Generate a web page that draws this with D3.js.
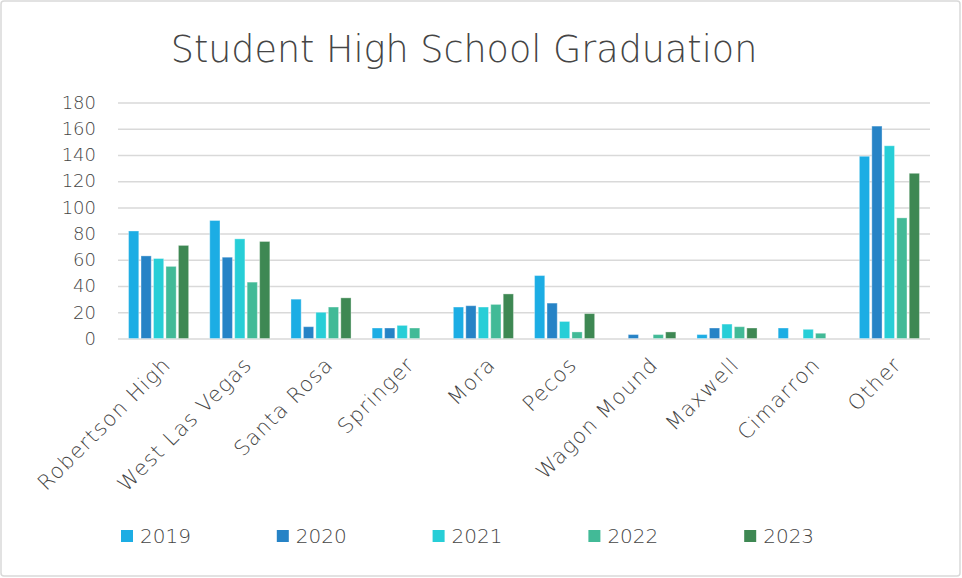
<!DOCTYPE html>
<html>
<head>
<meta charset="utf-8">
<script src="https://cdn.jsdelivr.net/npm/d3@7"></script>
<style>
  body { margin: 0; background: #fff; }
  svg text { font-family: "DejaVu Sans", sans-serif; font-weight: 200; fill: #454545; }
</style>
</head>
<body>
<svg id="chart" width="962" height="578"></svg>
<script>
const schools = ["Robertson High", "West Las Vegas", "Santa Rosa", "Springer", "Mora", "Pecos", "Wagon Mound", "Maxwell", "Cimarron", "Other"];
const years = ["2019", "2020", "2021", "2022", "2023"];
const v2019 = [82, 90, 30, 8, 24, 48, 0, 3, 8, 139];
const v2020 = [63, 62, 9, 8, 25, 27, 3, 8, 0, 162];
const v2021 = [61, 76, 20, 10, 24, 13, 0, 11, 7, 147];
const v2022 = [55, 43, 24, 8, 26, 5, 3, 9, 4, 92];
const v2023 = [71, 74, 31, 0, 34, 19, 5, 8, null, 126];
const yTicks = [0, 20, 40, 60, 80, 100, 120, 140, 160, 180];
const colors = ["#1CADE4", "#2683C6", "#27CED7", "#42BA97", "#3E8853"];

const series = [v2019, v2020, v2021, v2022, v2023];

const svg = d3.select('#chart');
const margin = { top: 102.5, right: 32, bottom: 239.5, left: 118 };
const width = 962 - margin.left - margin.right;
const height = 578 - margin.top - margin.bottom;

// chart frame
svg.append('rect')
    .attr('x', 1).attr('y', 1).attr('width', 959).attr('height', 575)
    .attr('rx', 3)
    .attr('fill', '#fff').attr('stroke', '#d9d9d9').attr('stroke-width', 1.5);

svg.append('text')
    .attr('x', 464).attr('y', 62)
    .attr('text-anchor', 'middle')
    .style('font-size', '36.5px')
    .text('Student High School Graduation');

const g = svg.append('g').attr('transform', 'translate(' + margin.left + ',' + margin.top + ')');

let x0 = d3.scaleBand().domain(schools).range([0, width]).paddingInner(0.26).paddingOuter(0.13);
let x1 = d3.scaleBand().domain(years).range([0, x0.bandwidth()]).paddingInner(0.18);
let yScale = d3.scaleLinear().domain([0, 180]).range([height, 0]);

// gridlines + y labels
let yAxis = d3.axisLeft(yScale).tickValues(yTicks).tickSize(-width).tickPadding(22);
g.append('g').attr('id', 'yAxisG')
    .call(yAxis)
    .call(a => {
        a.select('.domain').remove();
        a.selectAll('.tick line').attr('stroke', '#d9d9d9').attr('stroke-width', 1.5);
        a.selectAll('.tick text').style('font-size', '18px').attr('fill', '#454545');
    });

// bars
const groups = g.append('g').selectAll('.grp').data(schools).enter().append('g')
    .attr('class', 'grp')
    .attr('transform', d => 'translate(' + x0(d) + ',0)');

years.forEach((yr, si) => {
    groups.filter((d, i) => series[si][i] !== null)
        .append('rect')
        .attr('x', x1(yr))
        .attr('width', x1.bandwidth())
        .attr('y', (d) => yScale(series[si][schools.indexOf(d)]))
        .attr('height', (d) => height - yScale(series[si][schools.indexOf(d)]))
        .attr('fill', colors[si])
        .attr('stroke', '#ffffff')
        .attr('stroke-opacity', 0.35)
        .attr('stroke-width', 1);
});

// x labels
const xl = g.append('g').attr('transform', 'translate(0,' + height + ')');
xl.selectAll('text').data(schools).enter().append('text')
    .attr('transform', d => 'translate(' + (x0(d) + x0.bandwidth() / 2 + 3) + ',17) rotate(-45)')
    .attr('text-anchor', 'end')
    .attr('dy', '0.7em')
    .style('font-size', '21px')
    .style('letter-spacing', '1.2px')
    .text(d => d);

// legend
const leg = svg.append('g').attr('transform', 'translate(121,536)');
const li = leg.selectAll('g').data(years).enter().append('g')
    .attr('transform', (d, i) => 'translate(' + (i * 155.8) + ',0)');
li.append('rect').attr('x', 0).attr('y', -6).attr('width', 12).attr('height', 12)
    .attr('fill', (d, i) => colors[i]);
li.append('text').attr('x', 19).attr('y', 0).attr('dy', '0.36em')
    .style('font-size', '20px')
    .text(d => d);
</script>
</body>
</html>
